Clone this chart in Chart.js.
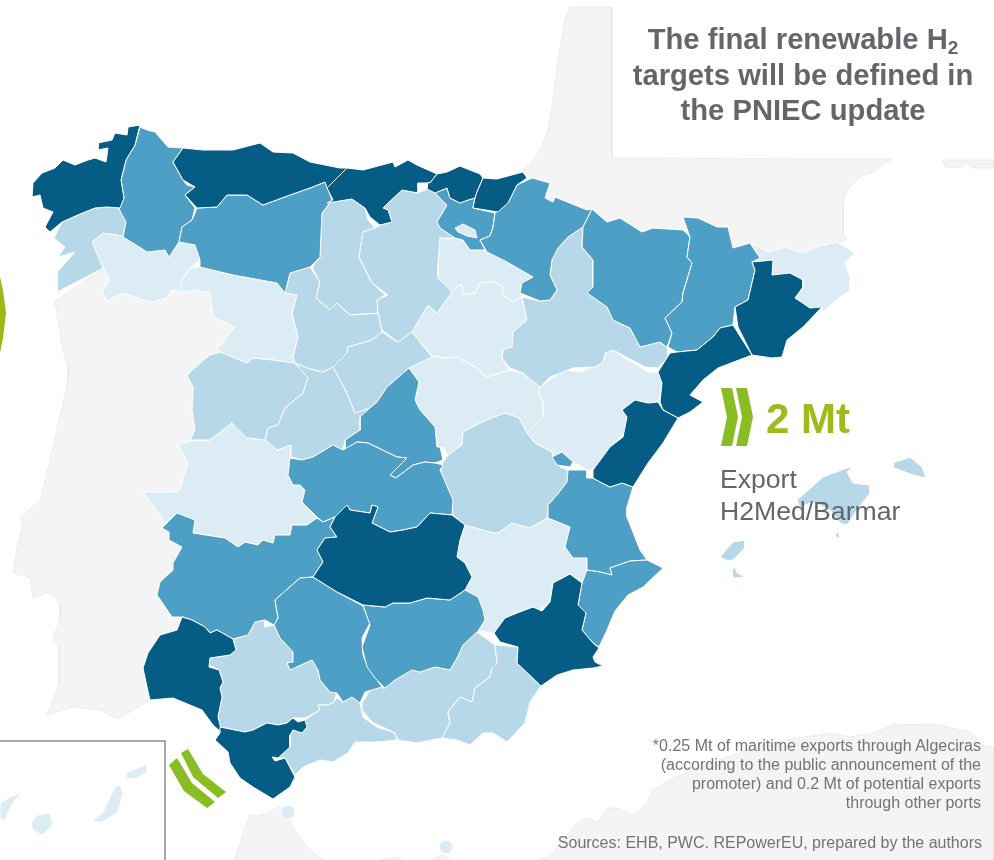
<!DOCTYPE html>
<html lang="en">
<head>
<meta charset="UTF-8">
<title>Renewable H2 targets by province</title>
<script src="https://cdn.jsdelivr.net/npm/chart.js"></script>
<style>
  html, body { margin: 0; padding: 0; background: #fff; }
  #wrap { position: relative; width: 994px; height: 860px; overflow: hidden; font-family: "Liberation Sans", Arial, sans-serif; }
  canvas { position: absolute; left: 0; top: 0; }
  .t { position: absolute; white-space: nowrap; color: #63666a; }
  #title { left: 612px; width: 382px; top: 22px; text-align: center; font-weight: bold; font-size: 29.2px; line-height: 35.5px; }
  #title sub { font-size: 19px; line-height: 0; vertical-align: -5px; }
  #mt { left: 766px; top: 394px; font-size: 42px; line-height: 50px; font-weight: bold; color: #9fba1d; }
  #exp { left: 720px; top: 463px; font-size: 26.6px; line-height: 32px; }
  #note { right: 13px; top: 736px; text-align: right; font-size: 16px; line-height: 19px; color: #707377; }
  #src { right: 12px; top: 833px; font-size: 16px; line-height: 19px; color: #707377; }
</style>
</head>
<body>
<div id="wrap">
  <canvas id="map" width="994" height="860"></canvas>
  <div class="t" id="title">The final renewable H<sub>2</sub><br>targets will be defined in<br>the PNIEC update</div>
  <div class="t" id="mt">2 Mt</div>
  <div class="t" id="exp">Export<br>H2Med/Barmar</div>
  <div class="t" id="note">*0.25 Mt of maritime exports through Algeciras<br>(according to the public announcement of the<br>promoter) and 0.2 Mt of potential exports<br>through other ports</div>
  <div class="t" id="src">Sources: EHB, PWC. REPowerEU, prepared by the authors</div>
</div>
<script>
// outlines, [x, y] in picture units
const portugal = [[55,301],[58,320],[63,350],[68,367],[68,380],[63,403],[53,447],[40,500],[20,518],[23,525],[17,547],[13,573],[30,577],[33,598],[50,592],[60,603],[60,620],[53,638],[59,647],[59,683],[47,715],[72,707],[100,710],[117,719],[147,702],[175,640],[190,560],[185,480],[205,400],[217,350],[235,327],[225,310],[200,270],[130,255],[103,269]];
const france = [[570,7],[612,7],[612,158],[892,159],[873,172],[860,177],[847,190],[843,203],[843,233],[847,238],[837,246],[750,262],[600,240],[530,190],[523,170],[533,160],[540,150],[548,130],[553,100],[558,60],[565,20]];
const corsica = [[943,160],[945,167],[960,168],[965,163],[973,168],[993,168],[994,160]];
const morocco = [[235,860],[243,833],[250,815],[258,816],[267,813],[280,807],[288,813],[292,827],[307,847],[323,860]];
const moroccoB = [[380,860],[397,857],[402,860]];
const moroccoC = [[432,860],[443,855],[450,860]];
const algeria = [[537,860],[550,857],[560,843],[577,823],[587,818],[597,822],[608,808],[618,808],[633,816],[647,803],[652,790],[670,780],[687,772],[733,755],[753,748],[773,742],[797,738],[833,733],[850,737],[873,733],[893,725],[933,724],[970,732],[983,745],[994,747],[994,860]];

const coruna = [[140,125],[128,127],[127,135],[115,133],[112,140],[98,143],[98,150],[108,148],[106,162],[95,158],[88,160],[75,165],[63,160],[55,168],[42,173],[33,183],[32,197],[40,195],[43,208],[53,212],[45,227],[50,232],[62,222],[80,214],[95,208],[107,207],[120,208],[124,198],[121,180],[126,160],[135,145]];
const lugo = [[140,127],[147,130],[155,132],[168,147],[183,148],[173,162],[183,180],[187,185],[195,187],[185,195],[195,208],[192,220],[182,227],[179,242],[169,257],[165,250],[147,252],[133,243],[123,237],[126,222],[119,209],[124,198],[121,180],[126,160],[135,145]];
const pontevedra = [[120,208],[107,207],[95,208],[80,214],[62,222],[54,238],[65,247],[58,257],[75,252],[57,272],[57,292],[88,276],[103,268],[92,242],[103,233],[123,236],[126,222]];
const ourense = [[92,242],[103,233],[123,236],[133,243],[147,252],[165,250],[169,257],[179,242],[195,245],[200,260],[190,268],[181,282],[183,292],[171,290],[167,298],[153,302],[143,300],[123,293],[107,301],[102,292],[110,280],[103,267],[95,253]];
const asturias = [[183,148],[203,150],[233,150],[260,143],[273,152],[293,153],[310,162],[340,168],[347,168],[333,182],[327,188],[325,182],[310,188],[290,195],[263,205],[247,195],[227,195],[217,207],[197,208],[185,195],[195,187],[183,180],[173,162]];
const leon = [[197,208],[217,207],[227,195],[247,195],[263,205],[290,195],[310,188],[325,182],[332,200],[322,213],[320,257],[310,267],[290,273],[285,293],[277,283],[233,275],[200,267],[200,260],[195,245],[179,242],[182,227],[192,220]];
const zamora = [[200,267],[233,275],[277,283],[285,293],[297,295],[292,313],[298,337],[293,357],[295,364],[273,360],[253,358],[247,363],[220,352],[217,350],[235,327],[213,317],[210,293],[195,290],[183,292],[181,282],[190,268]];
const salamanca = [[220,352],[210,355],[198,365],[187,375],[193,387],[192,410],[195,430],[190,440],[210,440],[232,423],[247,438],[265,440],[268,428],[278,425],[285,408],[303,393],[308,378],[295,363],[273,360],[253,358],[247,363]];
const avila = [[295,363],[307,368],[323,372],[333,367],[347,393],[355,413],[370,408],[360,430],[345,440],[343,450],[333,445],[313,457],[302,460],[291,457],[291,445],[277,450],[265,440],[268,428],[278,425],[285,408],[303,393],[308,378]];
const valladolid = [[285,293],[290,273],[310,267],[320,282],[316,298],[330,310],[337,303],[350,315],[378,313],[382,332],[372,340],[348,347],[347,353],[333,367],[323,372],[307,368],[295,363],[293,357],[298,337],[292,313],[297,295]];
const segovia = [[333,367],[347,353],[348,347],[372,340],[382,332],[397,342],[412,332],[432,357],[409,368],[387,387],[377,402],[370,408],[355,413],[347,393]];
const palencia = [[332,200],[352,199],[365,208],[368,220],[375,228],[363,232],[359,257],[372,283],[385,295],[377,300],[378,313],[350,315],[337,303],[330,310],[316,298],[320,282],[312,267],[320,257],[322,213]];
const cantabria = [[347,168],[363,170],[393,162],[395,167],[408,160],[417,165],[437,174],[430,183],[418,183],[418,193],[402,190],[388,203],[383,208],[388,210],[392,222],[380,225],[370,217],[365,208],[352,199],[327,203],[333,200],[327,188],[333,182]];
const burgos = [[402,190],[418,193],[427,189],[435,192],[447,205],[437,222],[440,228],[455,238],[440,238],[438,265],[438,278],[452,292],[437,313],[428,305],[412,332],[398,342],[382,330],[378,313],[377,300],[388,295],[372,283],[359,257],[363,232],[375,228],[380,225],[392,222],[388,210],[383,208],[388,203]];
const bizkaia = [[437,174],[447,172],[460,166],[480,174],[483,178],[477,192],[475,198],[468,200],[460,203],[450,198],[447,188],[435,193],[427,189],[428,182],[430,183]];
const gipuzkoa = [[483,178],[497,179],[523,172],[527,178],[517,185],[508,203],[498,212],[473,208],[475,198],[477,192]];
const alava = [[435,193],[447,188],[450,198],[460,203],[468,200],[475,198],[473,208],[495,213],[493,227],[490,236],[480,240],[485,250],[470,250],[463,240],[455,238],[440,228],[437,222],[447,205]];
const trevino = [[455,228],[463,224],[475,230],[477,238],[467,236],[458,232]];
const navarra = [[495,213],[508,203],[517,185],[532,178],[550,183],[545,198],[553,202],[555,197],[587,210],[592,209],[583,227],[568,237],[558,248],[552,260],[550,275],[557,290],[550,300],[540,301],[520,293],[522,283],[533,277],[507,262],[487,252],[480,240],[490,236],[493,227]];
const rioja = [[440,238],[455,238],[463,240],[470,250],[485,250],[507,262],[533,277],[522,283],[520,293],[522,297],[513,302],[503,295],[502,285],[492,282],[480,283],[475,293],[463,295],[462,285],[458,285],[452,292],[438,278],[438,265]];
const soria = [[452,292],[458,285],[462,285],[463,295],[475,293],[480,283],[492,282],[502,285],[503,295],[513,302],[522,297],[527,320],[513,332],[512,347],[503,350],[502,358],[509,370],[487,377],[477,368],[457,357],[445,358],[432,356],[412,332],[428,305],[437,313]];
const zaragoza = [[522,297],[540,301],[550,300],[557,290],[550,275],[552,260],[558,248],[568,237],[583,227],[582,247],[593,260],[593,287],[587,293],[607,307],[613,320],[630,328],[640,347],[660,342],[667,347],[668,357],[658,368],[645,367],[613,350],[605,353],[603,362],[595,367],[573,368],[550,377],[540,387],[523,373],[510,368],[502,358],[503,350],[512,347],[513,332],[527,320]];
const huesca = [[592,209],[607,222],[620,218],[642,232],[653,228],[683,230],[690,237],[687,257],[692,263],[683,293],[682,302],[665,318],[672,333],[667,347],[660,342],[640,347],[630,328],[613,320],[607,307],[587,293],[593,287],[593,260],[582,247],[583,227]];
const lleida = [[683,217],[698,218],[717,227],[728,227],[733,248],[750,243],[760,258],[752,262],[755,270],[748,300],[735,307],[733,325],[720,328],[713,337],[697,350],[677,352],[668,347],[672,333],[665,318],[682,302],[683,293],[692,263],[687,257],[690,237]];
const girona = [[752,243],[768,252],[785,247],[803,253],[817,247],[837,242],[847,248],[855,253],[845,263],[850,277],[850,290],[840,297],[823,312],[822,307],[810,308],[795,298],[803,287],[803,280],[790,273],[772,275],[773,260],[752,262],[760,258]];
const barcelona = [[752,262],[773,260],[772,275],[790,273],[803,280],[803,287],[795,298],[810,308],[822,307],[803,327],[787,340],[782,357],[772,358],[752,355],[738,327],[735,307],[748,300],[755,270]];
const tarragona = [[720,328],[733,325],[738,333],[752,355],[718,368],[703,380],[690,395],[703,402],[690,412],[678,418],[663,410],[660,402],[662,383],[658,372],[670,353],[677,352],[697,350],[713,337]];
const teruel = [[540,387],[550,380],[563,370],[582,372],[603,362],[605,353],[612,350],[648,372],[658,372],[663,383],[658,402],[648,403],[635,400],[622,410],[628,418],[625,430],[613,447],[607,457],[592,470],[587,470],[573,462],[562,452],[553,457],[552,452],[535,443],[527,433],[543,417],[543,402],[538,390]];
const guadalajara = [[432,356],[445,358],[457,357],[477,368],[487,377],[509,370],[523,373],[540,387],[543,402],[543,417],[527,433],[519,418],[505,413],[492,418],[480,423],[463,432],[462,445],[448,455],[443,447],[435,450],[437,447],[435,427],[420,410],[415,400],[419,382],[409,368]];
const madrid = [[409,368],[387,387],[377,402],[370,408],[360,417],[360,430],[345,440],[345,450],[357,442],[368,443],[397,457],[407,458],[390,475],[396,478],[413,465],[425,462],[435,463],[443,460],[440,447],[437,447],[435,427],[420,410],[415,400],[419,382]];
const toledo = [[290,458],[302,460],[313,457],[333,445],[343,450],[357,442],[368,443],[397,457],[407,458],[390,475],[396,478],[413,465],[425,462],[435,463],[443,465],[440,470],[453,500],[452,515],[430,513],[417,527],[403,530],[390,532],[372,523],[378,507],[372,505],[370,513],[350,510],[347,505],[335,517],[323,522],[317,517],[302,502],[305,490],[300,485],[293,485],[288,475]];
const cuenca = [[448,455],[462,445],[463,432],[480,423],[492,418],[505,413],[519,418],[527,433],[535,443],[552,452],[553,457],[560,467],[568,470],[567,482],[557,495],[548,505],[547,518],[530,528],[512,523],[498,533],[490,532],[465,525],[453,515],[452,503],[442,483],[441,465]];
const ademuz = [[552,457],[562,452],[573,462],[570,467],[557,465]];
const valencia = [[568,470],[587,470],[587,478],[593,478],[602,483],[610,487],[622,483],[633,487],[627,507],[627,517],[640,550],[647,560],[630,561],[610,568],[612,575],[600,572],[587,570],[587,558],[573,558],[565,547],[570,527],[548,518],[548,505],[557,495],[567,482]];
const castellon = [[593,470],[610,447],[623,437],[627,417],[622,410],[635,400],[648,403],[658,402],[663,410],[678,418],[663,443],[648,463],[633,487],[622,483],[610,487],[602,483],[593,478]];
const alicante = [[587,570],[600,572],[612,575],[610,568],[630,561],[647,560],[663,568],[643,587],[628,595],[615,611],[607,630],[599,647],[593,643],[582,630],[586,613],[578,605],[582,583]];
const murcia = [[582,583],[570,574],[553,583],[550,602],[542,611],[533,607],[517,613],[505,618],[494,633],[500,642],[518,647],[517,663],[541,686],[557,675],[573,670],[593,668],[603,666],[595,662],[593,657],[599,648],[593,643],[582,630],[586,613],[578,605]];
const albacete = [[465,525],[490,532],[498,533],[512,523],[530,528],[547,518],[570,527],[565,547],[573,558],[587,558],[587,580],[582,582],[570,574],[553,583],[550,602],[540,610],[533,607],[517,613],[505,618],[494,633],[478,631],[485,620],[483,610],[478,597],[465,590],[472,577],[465,563],[457,557],[460,540]];
const ciudadReal = [[347,505],[350,510],[370,513],[372,505],[378,507],[372,523],[390,532],[403,530],[417,527],[430,513],[452,515],[465,525],[460,540],[457,557],[465,563],[472,577],[465,590],[450,600],[427,598],[410,603],[393,603],[385,607],[363,605],[337,592],[313,577],[323,562],[317,550],[325,538],[337,537],[330,527],[335,517]];
const caceres = [[178,445],[190,441],[210,440],[232,423],[247,438],[265,440],[277,450],[291,445],[291,458],[288,475],[293,485],[300,485],[305,490],[302,502],[317,518],[307,525],[292,525],[290,535],[275,535],[273,543],[263,540],[258,545],[245,542],[238,547],[225,538],[193,533],[195,520],[177,513],[165,523],[158,513],[143,492],[175,492],[180,490],[188,463]];
const badajoz = [[177,513],[195,520],[193,533],[225,538],[238,547],[245,542],[258,545],[263,540],[273,543],[275,535],[290,535],[292,525],[307,525],[317,518],[323,522],[335,517],[330,527],[337,537],[325,538],[317,550],[323,562],[313,577],[300,578],[275,600],[278,618],[274,625],[265,620],[255,622],[248,635],[233,639],[217,630],[210,633],[205,627],[192,620],[183,617],[172,617],[157,595],[160,582],[173,570],[173,563],[182,547],[169,540],[169,532],[162,528],[173,517]];
const huelva = [[182,617],[192,620],[205,627],[210,633],[217,630],[233,639],[236,650],[230,655],[210,658],[209,667],[219,670],[223,682],[220,688],[222,697],[218,717],[222,733],[213,725],[202,710],[173,698],[150,700],[147,687],[143,668],[148,653],[160,635],[177,630]];
const sevilla = [[209,665],[210,658],[230,655],[236,650],[233,639],[248,635],[255,622],[265,620],[265,627],[274,625],[280,638],[293,652],[293,662],[287,663],[290,670],[312,660],[318,670],[320,680],[330,692],[337,693],[333,703],[327,705],[318,705],[320,710],[305,718],[293,718],[287,723],[278,725],[267,723],[253,730],[245,732],[220,727],[218,717],[222,697],[220,688],[223,682],[219,670]];
const cadiz = [[220,727],[245,732],[253,730],[267,723],[278,725],[287,723],[293,718],[298,722],[305,720],[307,727],[302,733],[293,730],[290,735],[290,747],[278,758],[272,757],[275,761],[285,758],[295,777],[290,787],[273,799],[253,787],[240,778],[230,763],[228,752],[215,740],[220,733]];
const malaga = [[337,698],[343,702],[352,697],[360,703],[363,717],[377,727],[395,733],[397,740],[377,742],[355,742],[348,753],[333,762],[320,760],[303,767],[295,775],[285,758],[278,758],[290,747],[290,735],[293,730],[302,733],[307,727],[305,720],[320,710],[318,705],[327,705],[333,703]];
const cordoba = [[275,600],[300,578],[313,577],[337,592],[363,606],[370,623],[362,638],[363,655],[368,667],[382,687],[365,692],[360,703],[352,697],[343,702],[337,693],[330,692],[320,680],[318,670],[312,660],[290,670],[287,663],[293,662],[293,652],[280,638],[274,625],[278,618]];
const jaen = [[363,605],[385,607],[393,603],[410,603],[427,598],[450,600],[465,590],[478,597],[483,610],[485,620],[478,631],[463,645],[457,658],[450,670],[435,667],[420,672],[412,670],[395,680],[385,688],[375,678],[367,667],[362,647],[370,625]];
const granada = [[477,632],[495,645],[497,663],[492,668],[490,677],[475,688],[472,702],[460,697],[448,712],[450,723],[442,738],[432,740],[417,743],[398,740],[395,733],[372,722],[362,710],[362,703],[372,687],[385,688],[395,680],[412,670],[420,672],[435,667],[450,670],[457,658],[463,645]];
const almeria = [[498,645],[518,647],[517,663],[541,686],[530,702],[525,723],[507,742],[493,733],[483,733],[470,745],[457,740],[442,738],[450,723],[448,712],[460,697],[472,702],[475,688],[490,677],[492,668],[497,663],[495,645]];
const mallorca = [[797,500],[823,477],[847,468],[853,467],[847,472],[853,483],[870,485],[870,493],[857,510],[847,525],[840,523],[830,510],[813,502],[800,507]];
const menorca = [[893,463],[910,457],[922,467],[926,478],[913,475],[900,470],[894,468]];
const ibiza = [[720,557],[733,542],[745,540],[745,548],[733,560],[728,561]];
const formentera = [[732,570],[735,567],[737,573],[745,577],[733,578]];
const cabrera = [[835,535],[838,532],[840,537],[837,538]];
const fuerteventura = [[92,822],[103,812],[115,787],[120,785],[123,793],[118,812],[103,822]];
const lanzarote = [[126,773],[138,768],[147,764],[147,772],[137,778],[127,779]];
const granCanaria = [[31,823],[37,815],[50,813],[53,825],[42,835],[33,830]];
const tenerife = [[0,803],[10,797],[23,792],[13,802],[5,820],[0,820]];
const ceutaMelilla = [[288,812],[446,847]];

const insetFrame = [[0,741],[165,741],[165,860]];
const bigArc = [[0,277],[3,290],[6,313],[3,338],[0,353]];
const chevronA = [[721,388],[732,388],[738,417],[732,446],[721,446],[727,417]];
const chevronB = [[736,388],[747,388],[753,417],[747,446],[736,446],[742,417]];
const chevronC = [[188,749],[181,753],[193,777],[218,798],[226,792],[203,774]];
const chevronD = [[177,758],[169,765],[184,791],[207,808],[215,802],[192,783]];

// provinces grouped by target class
const darkClass = [coruna, asturias, cantabria, bizkaia, gipuzkoa, barcelona, tarragona, castellon, ciudadReal, huelva, cadiz, murcia];
const midClass = [lugo, leon, alava, navarra, huesca, lleida, madrid, toledo, ademuz, valencia, alicante, badajoz, cordoba, jaen];
const lightClass = [pontevedra, salamanca, avila, valladolid, segovia, palencia, burgos, zaragoza, cuenca, sevilla, malaga, granada, almeria, mallorca, menorca, ibiza, formentera, cabrera];
const paleClass = [ourense, zamora, rioja, soria, guadalajara, teruel, caceres, albacete, girona, fuerteventura, lanzarote, granCanaria, tenerife];
const neighbours = [portugal, france, corsica, morocco, moroccoB, moroccoC, algeria];

const datasets = [];
function addShape(points, fillColor, lineColor, lineWidth) {
    datasets.push({
        data: points.concat([points[0]]),
        showLine: true,
        fill: 'shape',
        backgroundColor: fillColor,
        borderColor: lineColor,
        borderWidth: lineWidth,
        borderJoinStyle: 'round',
        pointRadius: 0,
        tension: 0
    });
}

neighbours.forEach(p => addShape(p, '#f4f4f4', '#e8e8e8', 0.8));
// pale and light first, the darker classes sit on top along shared edges
paleClass.forEach(p => addShape(p, '#dcecf5', '#ffffff', 1));
lightClass.forEach(p => addShape(p, '#b7d8e8', '#ffffff', 1));
midClass.forEach(p => addShape(p, '#4e9fc6', '#ffffff', 1));
darkClass.forEach(p => addShape(p, '#055d85', '#ffffff', 1));
// Treviño sits inside Álava, so it goes on top
addShape(trevino, '#dcecf5', '#ffffff', 1);
[chevronA, chevronB, chevronC, chevronD].forEach(p => addShape(p, '#8abd24', '#8abd24', 0));
addShape(bigArc, '#9cb91a', '#9cb91a', 0);

datasets.push({
    data: insetFrame, showLine: true, fill: false,
    borderColor: '#8c8c8c', borderWidth: 1.5, pointRadius: 0
});
datasets.push({
    data: ceutaMelilla, showLine: false,
    pointRadius: 7, pointBackgroundColor: '#dcecf5', pointBorderColor: '#ffffff', pointBorderWidth: 1
});

// first dataset is painted last by default, so flip it with order
datasets.forEach((d, i) => { d.order = -i; });

new Chart(document.getElementById('map').getContext('2d'), {
    type: 'scatter',
    data: { datasets: datasets },
    options: {
        responsive: false,
        animation: false,
        events: [],
        layout: { padding: 0, autoPadding: false },
        plugins: { legend: { display: false }, tooltip: { enabled: false } },
        scales: {
            x: { type: 'linear', min: 0, max: 994, display: false },
            y: { type: 'linear', min: 0, max: 860, reverse: true, display: false }
        }
    }
});
</script>
</body>
</html>
